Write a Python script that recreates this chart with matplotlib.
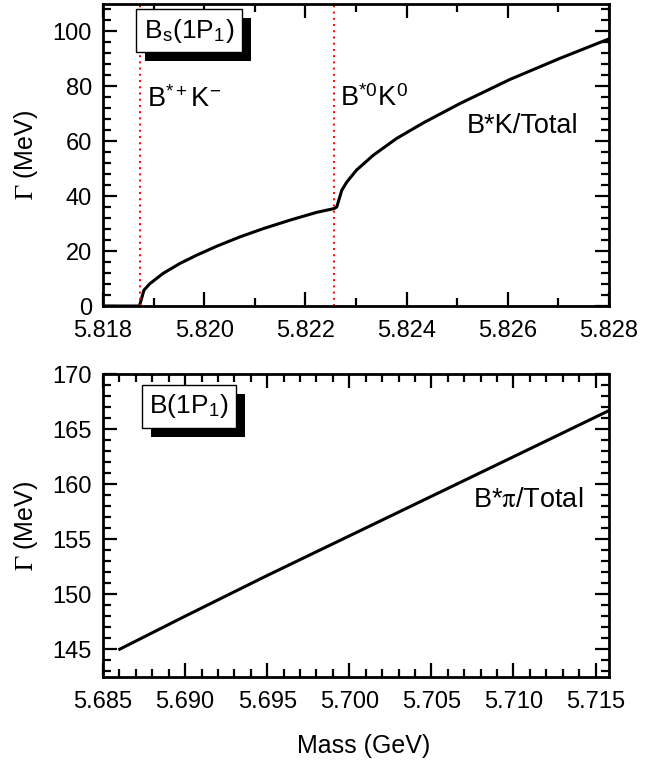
import matplotlib
matplotlib.use('Agg')
import matplotlib.pyplot as plt
from matplotlib.patches import Rectangle
from matplotlib.ticker import MultipleLocator

plt.rcParams['font.family'] = 'Liberation Sans'
plt.rcParams['mathtext.fontset'] = 'stix'

# B_s(1P_1): B*K partial / total width vs mass
mass_bs = [5.8180, 5.81872, 5.81881, 5.81893, 5.81919, 5.81952, 5.81985,
           5.82025, 5.82071, 5.82117, 5.82170, 5.82222, 5.82257, 5.82262,
           5.82272, 5.82282, 5.82301, 5.82334, 5.82380, 5.82433, 5.82506,
           5.82604, 5.82703, 5.82800]
gamma_bs = [0.0, 0.0, 5.8, 8.2, 11.9, 15.5, 18.5,
            21.8, 25.2, 28.2, 31.3, 34.1, 35.5, 36.1,
            42.2, 45.2, 49.5, 54.9, 61.0, 66.7, 73.8,
            82.5, 90.2, 97.3]
thresholds = [5.81873, 5.82257]   # B*+K- and B*0K0 thresholds

# B(1P_1): B*pi width vs mass
mass_b = [5.68602, 5.69000, 5.69500, 5.70000, 5.70500, 5.71000, 5.71582]
gamma_b = [145.0, 148.0, 151.7, 155.3, 158.9, 162.5, 166.7]

fig = plt.figure(figsize=(6.64, 7.66), dpi=100)
ax1 = fig.add_axes([0.1551, 0.6005, 0.7621, 0.3943])
ax2 = fig.add_axes([0.1551, 0.1166, 0.7621, 0.3948])

fs = 17
afs = 19.5


def style(ax):
    for s in ax.spines.values():
        s.set_linewidth(2)
    ax.tick_params(which='both', direction='in', top=True, right=True,
                   width=1.6, labelsize=fs, pad=8)
    ax.tick_params(axis='x', which='both', pad=10)
    ax.tick_params(which='major', length=10)
    ax.tick_params(which='minor', length=6)
    ax.set_ylabel(r'$\Gamma$ (MeV)', fontsize=fs + 1)
    ax.yaxis.set_label_coords(-0.125, 0.5)


boxes = []


def label_box(ax, x, y, txt):
    t = ax.text(x, y, txt, transform=ax.transAxes, ha='center', va='center', fontsize=19,
                bbox=dict(boxstyle='square,pad=0.28', fc='white', ec='black', lw=1),
                zorder=6)
    boxes.append((ax, t))


# top panel
ax1.plot(mass_bs, gamma_bs, color='black', lw=2.2)
for t in thresholds:
    ax1.axvline(t, color='red', ls=(0, (1, 2.2)), lw=1.4)
ax1.set_xlim(5.818, 5.828)
ax1.set_ylim(0, 110)
ax1.xaxis.set_major_locator(MultipleLocator(0.002))
ax1.xaxis.set_minor_locator(MultipleLocator(0.001))
ax1.yaxis.set_major_locator(MultipleLocator(20))
ax1.yaxis.set_minor_locator(MultipleLocator(4))
ax1.xaxis.set_major_formatter(plt.FormatStrFormatter('%.3f'))
style(ax1)
label_box(ax1, 0.170, 0.911, r'B$_{\mathregular{s}}$(1P$_{\mathregular{1}}$)')
ax1.text(0.087, 0.659, r'B$^{\mathregular{*+}}$K$^{\mathregular{-}}$', transform=ax1.transAxes,
         fontsize=afs, va='baseline')
ax1.text(0.468, 0.662, r'B$^{\mathregular{*0}}$K$^{\mathregular{0}}$', transform=ax1.transAxes,
         fontsize=afs, va='baseline')
ax1.text(0.719, 0.573, 'B*K/Total', transform=ax1.transAxes, fontsize=afs, va='baseline')

# bottom panel
ax2.plot(mass_b, gamma_b, color='black', lw=2.2)
ax2.set_xlim(5.685, 5.71582)
ax2.set_ylim(142.5, 170)
ax2.xaxis.set_major_locator(MultipleLocator(0.005))
ax2.xaxis.set_minor_locator(MultipleLocator(0.001))
ax2.yaxis.set_major_locator(MultipleLocator(5))
ax2.yaxis.set_minor_locator(MultipleLocator(1))
ax2.xaxis.set_major_formatter(plt.FormatStrFormatter('%.3f'))
style(ax2)
label_box(ax2, 0.170, 0.8935, r'B(1P$_{\mathregular{1}}$)')
ax2.text(0.731, 0.561, r'B*$\mathrm{\pi}$/Total', transform=ax2.transAxes,
         fontsize=afs, va='baseline')
ax2.set_xlabel('Mass (GeV)', fontsize=fs + 1)
ax2.xaxis.set_label_coords(0.515, -0.19)

# drop shadows behind the label boxes
fig.canvas.draw()
r = fig.canvas.get_renderer()
for ax, t in boxes:
    bb = t.get_bbox_patch().get_window_extent(r)
    inv = ax.transAxes.inverted()
    (x0, y0), (x1, y1) = inv.transform([(bb.x0 + 9, bb.y0 - 9), (bb.x1 + 9, bb.y1 - 9)])
    ax.add_patch(Rectangle((x0, y0), x1 - x0, y1 - y0, transform=ax.transAxes,
                           fc='black', ec='none', zorder=5))

fig.savefig('out.png', dpi=100)
